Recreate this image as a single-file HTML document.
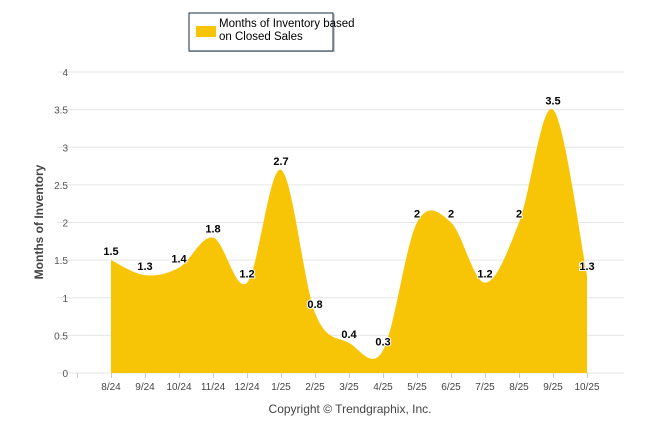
<!DOCTYPE html>
<html><head><meta charset="utf-8"><style>
body{margin:0;background:#fff;width:646px;height:434px;overflow:hidden;font-family:"Liberation Sans",sans-serif}
</style></head><body>
<svg width="646" height="434" font-family="Liberation Sans, sans-serif">
<g>
<rect x="190" y="14" width="145" height="38" fill="#999" opacity="0.5"/>
<rect x="189" y="13" width="144" height="38" fill="#fff" stroke="#1b2a4a" stroke-width="1"/>
<rect x="196" y="26" width="20" height="11" fill="#f7c506"/>
<text x="219" y="27" font-size="11.5" fill="#000">Months of Inventory based</text>
<text x="219" y="40" font-size="11.5" fill="#000">on Closed Sales</text>
</g>
<g id="grid"></g>
<g id="yt"></g>
<path id="area" fill="#f7c506"/>
<g id="xt"></g>
<g id="lab"></g>
<text x="43" y="222" font-size="12" font-weight="bold" fill="#444" text-anchor="middle" transform="rotate(-90 43 222)">Months of Inventory</text>
<text x="350" y="413" font-size="12" fill="#444" text-anchor="middle">Copyright © Trendgraphix, Inc.</text>
</svg>
<script>
const categories=["8/24","9/24","10/24","11/24","12/24","1/25","2/25","3/25","4/25","5/25","6/25","7/25","8/25","9/25","10/25"];
const values=[1.5,1.3,1.4,1.8,1.2,2.7,0.8,0.4,0.3,2,2,1.2,2,3.5,1.3];
const yTicks=[0,0.5,1,1.5,2,2.5,3,3.5,4];
const NS="http://www.w3.org/2000/svg";
const x=i=>111+i*34;
const y=v=>373-v*75.25;
function mk(t,a,p){const e=document.createElementNS(NS,t);for(const k in a)e.setAttribute(k,a[k]);p.appendChild(e);return e;}
const grid=document.getElementById('grid'),yt=document.getElementById('yt'),xt=document.getElementById('xt'),lab=document.getElementById('lab');
yTicks.forEach(v=>{
const l=mk('line',{x1:57,x2:624,y1:y(v),y2:y(v),stroke:'#e6e6e6'},grid);


const t=mk('text',{x:68,y:y(v)+4,'font-size':10,fill:'#555','text-anchor':'end'},yt);t.textContent=v;


});
for(let i=-1;i<categories.length;i++){mk('line',{x1:x(i)+0.5-17+17,x2:x(i)+0.5,y1:373,y2:378,stroke:'#ccc'},xt);}
categories.forEach((c,i)=>{
const t=mk('text',{x:x(i),y:390,'font-size':10,fill:'#444','text-anchor':'middle'},xt);t.textContent=c;


});
const P=values.map((v,i)=>[x(i),y(v)]);
let d=`M${P[0][0]},${y(0)} L${P[0][0]},${P[0][1]}`;
for(let i=0;i<P.length-1;i++){
const p0=P[Math.max(i-1,0)],p1=P[i],p2=P[i+1],p3=P[Math.min(i+2,P.length-1)];
const c1=[p1[0]+(p2[0]-p0[0])/6,p1[1]+(p2[1]-p0[1])/6],c2=[p2[0]-(p3[0]-p1[0])/6,p2[1]-(p3[1]-p1[1])/6];
d+=` C${c1[0]},${c1[1]} ${c2[0]},${c2[1]} ${p2[0]},${p2[1]}`;
}
d+=` L${P[P.length-1][0]},${y(0)} Z`;
document.getElementById('area').setAttribute('d',d);
values.forEach((v,i)=>{
const t=mk('text',{x:x(i),y:y(v)-5,'font-size':11,'font-weight':'bold',fill:'#000','text-anchor':'middle',stroke:'#fff','stroke-width':2,'paint-order':'stroke'},lab);t.textContent=v;


});
</script>
</body></html>
